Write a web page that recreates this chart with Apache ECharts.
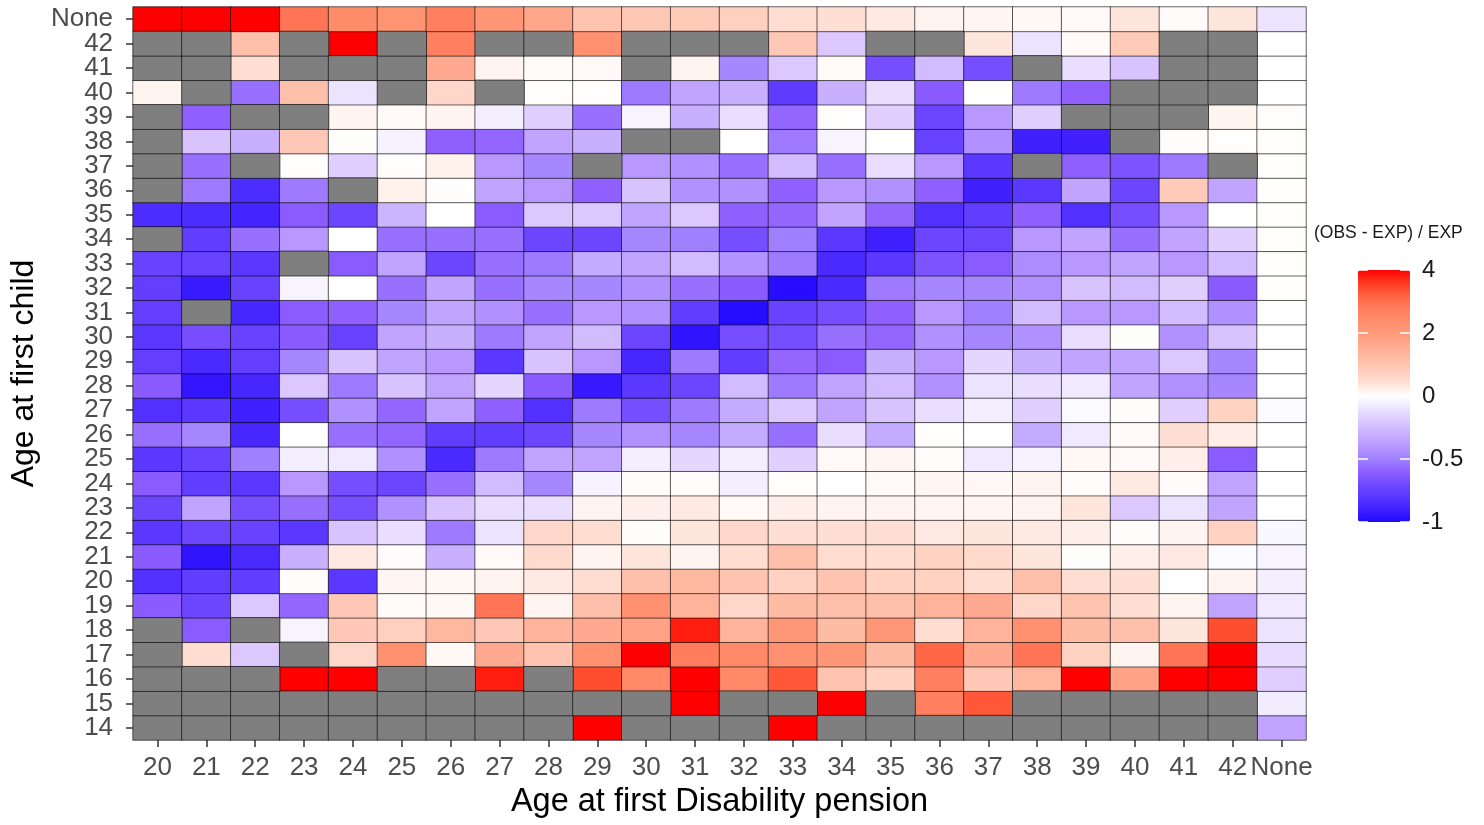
<!DOCTYPE html>
<html>
<head>
<meta charset="utf-8">
<script src="https://cdn.jsdelivr.net/npm/echarts@6/dist/echarts.min.js"></script>
<style>
html,body{margin:0;padding:0;background:#fff;}
#chart{width:1484px;height:825px;}
</style>
</head>
<body>
<div id="chart"></div>
<script>
// Categories
const xCats = ['20','21','22','23','24','25','26','27','28','29','30','31','32','33','34','35','36','37','38','39','40','41','42','None'];
const yCats = ['14','15','16','17','18','19','20','21','22','23','24','25','26','27','28','29','30','31','32','33','34','35','36','37','38','39','40','41','42','None'];
const legendBreaks = [-1, -0.5, 0, 2, 4];
const legendLabels = ['-1', '-0.5', '0', '2', '4'];

// Values (OBS - EXP) / EXP, columns 20..42, None; null = missing (grey)
const rowNone = [4,4,4,2.9,2.4,2.2, 2.7,2.1,1.7,1.0,0.9,0.85, 0.75,0.5,0.45,0.3,0.15,0.12, 0.1,0.08,0.35,0.05,0.35,-0.1];
const row42 = [null,null,1.1,null,4,null, 2.7,null,null,2.3,null,null, null,0.9,-0.2,null,null,0.35, -0.1,0.08,0.85,null,null,0.0];
const row41 = [null,null,0.45,null,null,null, 1.6,0.15,0.05,0.08,null,0.15, -0.47,-0.2,0.06,-0.68,-0.25,-0.68, null,-0.12,-0.22,null,null,0.0];
const row40 = [0.15,null,-0.55,1.1,-0.1,null, 0.6,null,0.02,0.02,-0.52,-0.35, -0.3,-0.78,-0.3,-0.12,-0.62,0.0, -0.52,-0.6,null,null,null,0.01];
const row39 = [null,-0.6,null,null,0.15,0.08, 0.15,-0.06,-0.17,-0.55,-0.04,-0.3, -0.12,-0.58,0.02,-0.17,-0.72,-0.4, -0.17,null,null,null,0.15,0.02];
const row38 = [null,-0.22,-0.3,0.9,0.02,-0.05, -0.6,-0.58,-0.35,-0.3,null,null, 0.0,-0.52,-0.04,0.0,-0.74,-0.43, -0.9,-0.9,null,0.04,0.02,0.02];
const row37 = [null,-0.55,null,0.02,-0.17,0.02, 0.18,-0.4,-0.47,null,-0.4,-0.43, -0.55,-0.25,-0.55,-0.12,-0.4,-0.8, null,-0.6,-0.66,-0.52,null,0.02];
const row36 = [null,-0.52,-0.85,-0.52,null,0.18, 0.02,-0.35,-0.4,-0.6,-0.22,-0.43, -0.43,-0.6,-0.4,-0.43,-0.6,-0.9, -0.8,-0.35,-0.72,0.85,-0.35,0.02];
const row35 = [-0.85,-0.85,-0.88,-0.62,-0.72,-0.28, 0.0,-0.62,-0.2,-0.2,-0.35,-0.2, -0.6,-0.58,-0.35,-0.58,-0.83,-0.77, -0.6,-0.83,-0.68,-0.4,0.0,0.02];
const row34 = [null,-0.77,-0.55,-0.4,0.0,-0.55, -0.55,-0.55,-0.72,-0.72,-0.47,-0.5, -0.68,-0.5,-0.8,-0.9,-0.72,-0.72, -0.4,-0.35,-0.55,-0.35,-0.17,0.02];
const row33 = [-0.74,-0.74,-0.8,null,-0.62,-0.35, -0.72,-0.55,-0.52,-0.32,-0.35,-0.25, -0.42,-0.52,-0.86,-0.8,-0.66,-0.62, -0.45,-0.4,-0.35,-0.4,-0.25,0.02];
const row32 = [-0.76,-0.92,-0.74,-0.04,0.0,-0.55, -0.35,-0.55,-0.47,-0.47,-0.43,-0.55, -0.62,-0.98,-0.86,-0.52,-0.47,-0.47, -0.43,-0.22,-0.25,-0.17,-0.62,0.02];
const row31 = [-0.76,null,-0.87,-0.62,-0.6,-0.47, -0.35,-0.43,-0.55,-0.4,-0.43,-0.77, -0.98,-0.74,-0.68,-0.6,-0.4,-0.5, -0.25,-0.4,-0.4,-0.25,-0.43,0.01];
const row30 = [-0.8,-0.68,-0.74,-0.62,-0.74,-0.35, -0.3,-0.52,-0.35,-0.25,-0.72,-0.95, -0.68,-0.68,-0.55,-0.58,-0.43,-0.47, -0.43,-0.12,0.02,-0.43,-0.22,0.01];
const row29 = [-0.76,-0.86,-0.76,-0.47,-0.22,-0.35, -0.4,-0.8,-0.22,-0.4,-0.87,-0.52, -0.77,-0.58,-0.62,-0.3,-0.4,-0.15, -0.3,-0.35,-0.35,-0.2,-0.47,0.01];
const row28 = [-0.62,-0.94,-0.87,-0.2,-0.52,-0.22, -0.35,-0.15,-0.62,-0.93,-0.8,-0.72, -0.25,-0.52,-0.35,-0.25,-0.43,-0.1, -0.12,-0.08,-0.35,-0.43,-0.47,0.01];
const row27 = [-0.83,-0.8,-0.9,-0.68,-0.43,-0.58, -0.35,-0.6,-0.83,-0.52,-0.68,-0.52, -0.32,-0.2,-0.35,-0.22,-0.12,-0.06, -0.17,-0.02,0.03,-0.17,0.7,-0.02];
const row26 = [-0.55,-0.47,-0.87,0.0,-0.55,-0.58, -0.77,-0.77,-0.72,-0.47,-0.43,-0.47, -0.32,-0.55,-0.12,-0.32,0.02,0.01, -0.32,-0.08,0.07,0.45,0.25,0.0];
const row25 = [-0.8,-0.74,-0.5,-0.06,-0.08,-0.43, -0.86,-0.52,-0.35,-0.35,-0.06,-0.15, -0.06,-0.17,0.08,0.12,0.04,-0.08, -0.05,0.1,0.07,0.22,-0.62,0.0];
const row24 = [-0.62,-0.77,-0.8,-0.4,-0.68,-0.72, -0.55,-0.25,-0.47,-0.05,0.03,0.04, -0.06,0.02,0.0,0.07,0.12,0.09, 0.15,0.04,0.3,0.05,-0.35,0.0];
const row23 = [-0.72,-0.35,-0.68,-0.55,-0.68,-0.43, -0.22,-0.12,-0.12,0.15,0.22,0.3, 0.08,0.22,0.15,0.15,0.12,0.12, 0.15,0.35,-0.2,-0.1,-0.35,0.0];
const row22 = [-0.8,-0.72,-0.74,-0.8,-0.22,-0.12, -0.52,-0.1,0.6,0.5,0.02,0.35, 0.6,0.45,0.45,0.45,0.3,0.35, 0.3,0.22,0.03,0.15,0.7,-0.03];
const row21 = [-0.62,-0.95,-0.86,-0.3,0.3,0.05, -0.3,0.07,0.55,0.15,0.35,0.15, 0.5,1.1,0.5,0.5,0.7,0.55, 0.35,0.03,0.22,0.3,-0.02,-0.04];
const row20 = [-0.83,-0.77,-0.77,0.03,-0.8,0.12, 0.1,0.15,0.3,0.5,1.1,1.3, 1.0,0.7,1.0,0.7,0.7,0.5, 1.1,0.45,0.45,0.01,0.15,-0.06];
const row19 = [-0.62,-0.72,-0.2,-0.58,0.9,0.05, 0.1,2.9,0.15,1.1,2.3,1.4, 0.6,1.2,1.1,1.1,1.4,1.6, 0.6,1.0,0.45,0.15,-0.35,-0.08];
const row18 = [null,-0.62,null,-0.04,0.9,0.75, 1.3,0.9,1.4,1.6,1.8,3.8, 1.4,2.1,1.2,2.1,0.5,1.4, 2.3,1.2,1.1,0.35,3.4,-0.1];
const row17 = [null,0.5,-0.2,null,0.6,2.3, 0.1,1.6,1.0,2.3,4,2.8, 2.5,2.3,2.1,1.2,3.1,1.6, 2.9,0.7,0.15,2.9,4,-0.13];
const row16 = [null,null,null,4,4,null, null,3.8,null,3.4,2.5,4, 2.5,3.3,1.0,0.7,2.7,0.9, 1.3,4,1.8,4,4,-0.18];
const row15 = [null,null,null,null,null,null, null,null,null,null,null,4, null,null,4,null,2.7,3.3, null,null,null,null,null,-0.07];
const row14 = [null,null,null,null,null,null, null,null,null,4,null,null, null,4,null,null,null,null, null,null,null,null,null,-0.35];

const rowsByAge = [row14,row15,row16,row17,row18,row19,row20,row21,row22,row23,row24,row25,row26,row27,row28,row29,row30,row31,row32,row33,row34,row35,row36,row37,row38,row39,row40,row41,row42,rowNone];

// colour scale transform: -1 -> 0, -0.5 -> .25, 0 -> .5, 2 -> .75, 4 -> 1
function toT(v){ v = Math.max(-1, Math.min(4, v)); return v <= 0 ? (v + 1) / 2 : 0.5 + v / 8; }

const cells = [], naCells = [];
rowsByAge.forEach((row, yi) => {
  row.forEach((v, xi) => {
    if (v === null) naCells.push([xi, yi, 0]);
    else cells.push([xi, yi, toT(v), v]);
  });
});

const FONT = '"Liberation Sans", Arial, sans-serif';
const bar = {left: 1358, top: 270, w: 52, h: 252};

const graphics = [{
  type: 'text', left: 1314, top: 224,
  style: {text: '(OBS - EXP) / EXP', fontSize: 17.5, fontFamily: FONT, fill: '#1a1a1a'}
}];
legendBreaks.forEach((b, i) => {
  const y = bar.top + (1 - toT(b)) * bar.h;
  graphics.push({type: 'text', x: bar.left + bar.w + 12, y: y,
    style: {text: legendLabels[i], fontSize: 24, fontFamily: FONT, fill: '#1a1a1a', verticalAlign: 'middle', align: 'left'}});
  graphics.push({type: 'line', shape: {x1: bar.left, y1: y, x2: bar.left + 10, y2: y}, style: {stroke: '#fff', lineWidth: 1.5}, z: 100});
  graphics.push({type: 'line', shape: {x1: bar.left + bar.w - 10, y1: y, x2: bar.left + bar.w, y2: y}, style: {stroke: '#fff', lineWidth: 1.5}, z: 100});
});

const chart = echarts.init(document.getElementById('chart'), null, {renderer: 'canvas'});
chart.setOption({
  animation: false,
  backgroundColor: '#fff',
  grid: {left: 132, right: 178, top: 7, bottom: 85},
  xAxis: {
    type: 'category', data: xCats,
    name: 'Age at first Disability pension', nameLocation: 'middle', nameGap: 46,
    nameTextStyle: {fontSize: 32.5, fontFamily: FONT, color: '#000'},
    axisLine: {show: false},
    axisTick: {show: true, alignWithLabel: true, length: 7, lineStyle: {color: '#333', width: 1.5}},
    axisLabel: {fontSize: 26, fontFamily: FONT, color: '#4d4d4d', margin: 15, interval: 0},
    splitLine: {show: false}
  },
  yAxis: {
    type: 'category', data: yCats,
    name: 'Age at first child', nameLocation: 'middle', nameGap: 91, nameRotate: 90,
    nameTextStyle: {fontSize: 32, fontFamily: FONT, color: '#000'},
    axisLine: {show: false},
    axisTick: {show: true, alignWithLabel: true, length: 7, lineStyle: {color: '#333', width: 1.5}},
    axisLabel: {fontSize: 26, fontFamily: FONT, color: '#4d4d4d', margin: 20, interval: 0},
    splitLine: {show: false}
  },
  visualMap: {
    type: 'continuous', seriesIndex: 0, dimension: 2, min: 0, max: 1,
    orient: 'vertical', left: bar.left - 15, top: bar.top - 15, itemWidth: bar.w, itemHeight: bar.h,
    calculable: false, hoverLink: false, realtime: false,
    inRange: {color: ['#2008ff','#4020ff','#5a38ff','#7048ff','#9060ff','#a080ff','#b898ff','#c8b0ff','#dcc8ff','#ece4ff','#ffffff',
                      '#ffe2d8','#ffccbb','#ffbca5','#ffaa90','#ff9a7a','#ff8d6c','#ff7c5c','#ff6040','#ff3a20','#ff0000']}
  },
  graphic: graphics,
  series: [{
    type: 'heatmap', data: cells,
    itemStyle: {borderColor: 'rgba(0,0,0,0.75)', borderWidth: 0.8},
    emphasis: {disabled: true}
  }, {
    type: 'heatmap', data: naCells,
    itemStyle: {color: '#7f7f7f', borderColor: 'rgba(0,0,0,0.75)', borderWidth: 0.8},
    emphasis: {disabled: true}
  }]
});
</script>
</body>
</html>
